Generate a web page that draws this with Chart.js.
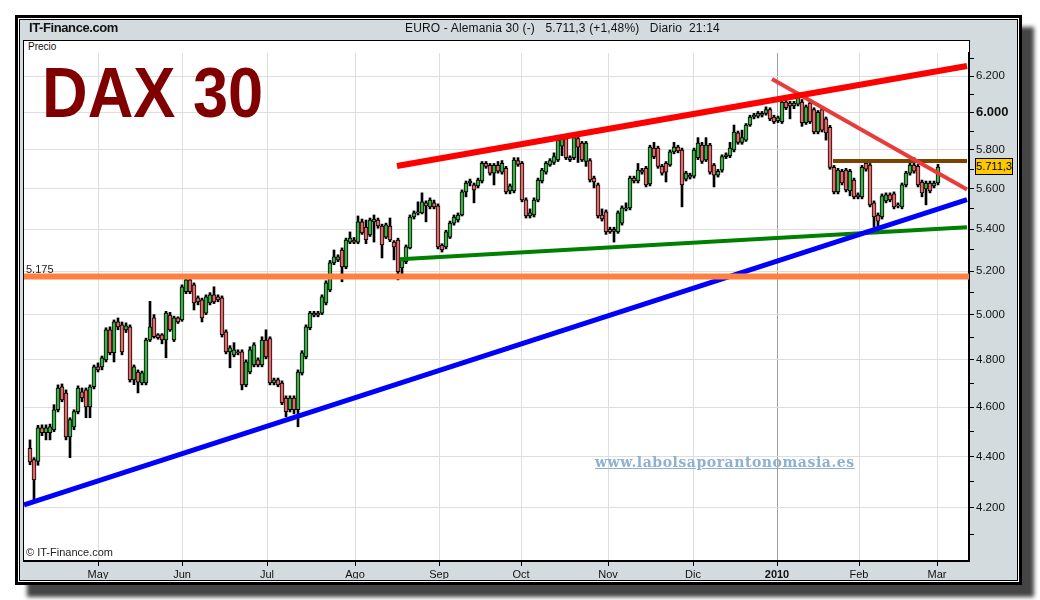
<!DOCTYPE html>
<html>
<head>
<meta charset="utf-8">
<script src="https://cdn.jsdelivr.net/npm/chart.js@4/dist/chart.umd.min.js"></script>
<style>
  body { margin: 0; background: #fff; font-family: "Liberation Sans", Arial, sans-serif; }
  #page { position: relative; width: 1040px; height: 600px; overflow: hidden; }
  .abs { position: absolute; }
  #shadow { left: 27px; top: 27px; width: 1007px; height: 570px; background: #444; filter: blur(2px); }
  #frame { left: 15px; top: 15px; width: 1007px; height: 570px; box-sizing: border-box; border: 3px solid #000; background: #fff; padding: 1px; }
  #panel { width: 100%; height: 100%; box-sizing: border-box; border: 1px solid #000; background: #d4dbde; }
  #precio { left: 23px; top: 40px; width: 947px; height: 14px; box-sizing: border-box; border: 1px solid #000; background: #fff; font-size: 10px; line-height: 12px; padding-left: 4px; color: #111; }
  #plot { left: 23px; top: 53px; width: 946px; height: 508px; box-sizing: border-box; border-left: 1px solid #000; background: #fff; }
  #cv { left: 0; top: 0; }
  #site { left: 29px; top: 20px; font-size: 13px; font-weight: bold; letter-spacing: -0.4px; color: #111; }
  #head { left: 405px; top: 21px; font-size: 12px; color: #111; white-space: pre; letter-spacing: 0.15px; }
  #dax { left: 42px; top: 57px; font-size: 71px; font-weight: bold; color: #800000; line-height: 1; transform: scaleX(0.89); transform-origin: left top; }
  #web { left: 595px; top: 454px; font-family: "DejaVu Serif", serif; font-size: 14px; font-weight: bold; color: #8eb0d2; text-decoration: underline; letter-spacing: 0.55px; }
  #copy { left: 26px; top: 546px; font-size: 11px; color: #222; }
  #lvl { left: 26px; top: 263px; font-size: 11px; color: #222; }
  #last { left: 975px; top: 158px; width: 38px; height: 17px; box-sizing: border-box; border: 1px solid #000; background: #ffc800; font-size: 11px; line-height: 15px; text-align: center; color: #000; }
</style>
</head>
<body>
<div id="page">
  <div id="shadow" class="abs"></div>
  <div id="frame" class="abs"><div id="panel"></div></div>
  <div id="precio" class="abs">Precio</div>
  <div id="plot" class="abs"></div>
  <canvas id="cv" class="abs" width="1040" height="600"></canvas>
  <div id="site" class="abs">IT-Finance.com</div>
  <div id="head" class="abs">EURO - Alemania 30 (-)   5.711,3 (+1,48%)   Diario  21:14</div>
  <div id="dax" class="abs">DAX 30</div>
  <div id="web" class="abs">www.labolsaporantonomasia.es</div>
  <div id="copy" class="abs">© IT-Finance.com</div>
  <div id="lvl" class="abs">5.175</div>
  <div id="last" class="abs">5.711,3</div>
</div>
<script>
// daily candles, 6 Apr 2009 .. 1 Mar 2010
const opens = [4432,4387,4380,4515,4495,4495,4507,4589,4685,4659,4478,4519,4581,4664,4672,4601,4685,4770,4770,4800,
  4932,4831,4967,4954,4932,4945,4714,4748,4701,4701,4887,4985,4910,4910,4887,4998,4887,4985,4976,5104,
  5159,5136,5076,5067,5007,5053,5090,5081,5076,4923,4835,4822,4835,4835,4693,4748,4778,4800,4778,4887,
  4893,4701,4714,4701,4638,4589,4638,4589,4744,4813,4941,4998,5007,5007,5053,5113,5239,5253,5300,5220,
  5338,5348,5338,5436,5410,5372,5436,5445,5416,5362,5416,5338,5348,5215,5244,5310,5460,5480,5480,5530,
  5510,5530,5515,5324,5315,5362,5430,5445,5470,5585,5630,5620,5615,5640,5730,5720,5680,5720,5685,5705,
  5590,5590,5745,5730,5545,5465,5470,5544,5640,5685,5722,5735,5748,5820,5860,5760,5760,5860,5836,5740,
  5745,5655,5620,5470,5485,5400,5390,5387,5430,5500,5505,5655,5640,5696,5705,5625,5810,5810,5715,5730,
  5722,5790,5815,5800,5650,5670,5665,5760,5826,5748,5826,5722,5670,5696,5765,5770,5800,5890,5840,5852,
  5932,5975,5980,5995,5995,6015,5975,5955,5950,6056,6050,6035,6045,6056,5945,6050,6015,5895,6015,5965,
  5920,5710,5585,5690,5696,5590,5645,5570,5560,5730,5722,5530,5470,5460,5540,5570,5575,5520,5510,5620,
  5680,5722,5715,5635,5600,5630,5615,5630];
const highs = [4466,4395,4525,4527,4527,4530,4610,4693,4697,4672,4556,4589,4689,4680,4680,4693,4778,4787,4817,4941,
  4945,4976,4985,4967,4963,4954,4778,4757,4752,4895,5060,5000,4915,4915,5015,5010,4993,4990,5136,5183,
  5183,5145,5085,5075,5090,5100,5127,5090,5085,4932,4862,4875,4844,4844,4800,4857,4875,4809,4901,4932,
  4901,4722,4722,4710,4647,4647,4647,4757,4840,4954,5015,5015,5015,5090,5155,5250,5300,5277,5310,5357,
  5387,5360,5465,5450,5445,5455,5470,5455,5425,5430,5455,5345,5357,5262,5324,5470,5490,5535,5580,5540,
  5555,5544,5525,5330,5395,5440,5470,5480,5595,5640,5650,5630,5655,5740,5740,5730,5730,5740,5745,5715,
  5625,5760,5760,5740,5555,5500,5555,5655,5705,5740,5755,5785,5860,5878,5870,5770,5878,5870,5845,5845,
  5755,5665,5630,5500,5495,5410,5410,5490,5515,5530,5665,5665,5730,5705,5715,5825,5840,5820,5725,5740,
  5800,5840,5825,5810,5690,5680,5810,5865,5840,5865,5835,5730,5700,5775,5785,5840,5932,5900,5905,5940,
  5985,5995,6005,6005,6030,6025,5985,5980,6065,6070,6060,6060,6095,6070,6040,6060,6025,6010,6025,5975,
  5930,5720,5705,5700,5705,5700,5655,5580,5720,5740,5730,5540,5480,5575,5580,5580,5585,5530,5630,5690,
  5735,5760,5725,5645,5640,5640,5640,5725];
const lows = [4367,4231,4365,4483,4466,4466,4499,4580,4622,4466,4395,4507,4572,4622,4556,4556,4676,4748,4757,4791,
  4822,4791,4932,4822,4920,4705,4694,4659,4693,4693,4880,4895,4890,4870,4809,4925,4880,4960,4970,5095,
  5095,5021,5044,4967,5000,5044,5050,5058,4900,4826,4766,4813,4822,4672,4685,4740,4770,4770,4770,4805,
  4693,4693,4685,4610,4560,4580,4572,4519,4735,4805,4932,4990,4990,5000,5044,5104,5230,5244,5150,5211,
  5330,5330,5330,5375,5330,5365,5338,5405,5262,5355,5340,5253,5159,5165,5235,5305,5450,5470,5475,5436,
  5500,5500,5305,5290,5305,5355,5420,5435,5465,5560,5615,5530,5605,5630,5705,5670,5620,5680,5675,5575,
  5575,5580,5715,5535,5455,5455,5460,5535,5630,5675,5715,5725,5740,5770,5750,5740,5750,5735,5740,5715,
  5635,5605,5455,5440,5375,5380,5338,5380,5420,5490,5495,5630,5630,5675,5610,5615,5755,5705,5670,5635,
  5715,5780,5785,5510,5640,5650,5655,5750,5730,5740,5675,5610,5660,5685,5755,5760,5790,5830,5830,5845,
  5925,5965,5970,5975,5985,5955,5940,5945,5940,6015,5965,6020,6035,5925,5935,5940,5885,5885,5895,5852,
  5700,5575,5575,5620,5585,5565,5550,5550,5550,5690,5510,5410,5410,5450,5530,5535,5500,5505,5500,5610,
  5670,5680,5610,5560,5520,5580,5605,5620];
const closes = [4378,4308,4515,4495,4515,4519,4589,4680,4630,4478,4548,4581,4680,4638,4601,4685,4770,4757,4809,4932,
  4831,4967,4945,4835,4950,4714,4770,4705,4744,4887,4945,4901,4897,4887,5007,4932,4985,4967,5127,5159,
  5104,5053,5058,4985,5081,5090,5058,5067,4910,4835,4853,4844,4831,4693,4792,4844,4866,4778,4887,4813,
  4701,4714,4693,4618,4581,4638,4589,4748,4831,4945,5007,5007,4998,5081,5145,5239,5267,5267,5220,5348,
  5357,5338,5436,5382,5350,5445,5450,5416,5324,5421,5348,5315,5197,5253,5315,5460,5480,5485,5535,5515,
  5544,5510,5315,5300,5387,5430,5460,5470,5585,5630,5640,5595,5645,5730,5715,5680,5720,5690,5730,5585,
  5615,5748,5725,5545,5465,5480,5544,5645,5696,5730,5745,5765,5852,5860,5760,5750,5865,5815,5748,5836,
  5645,5635,5465,5450,5387,5387,5400,5480,5505,5505,5655,5640,5696,5685,5620,5815,5765,5715,5680,5685,
  5790,5815,5795,5620,5680,5660,5800,5836,5740,5826,5685,5670,5690,5765,5775,5810,5895,5840,5865,5932,
  5975,5985,5995,5985,6015,5965,5950,5970,6056,6025,6035,6050,6080,5945,6030,5950,5895,6000,5905,5890,
  5710,5585,5696,5630,5595,5690,5560,5560,5710,5700,5520,5460,5440,5565,5570,5545,5510,5515,5620,5680,
  5722,5690,5620,5580,5630,5590,5630,5711];

// axis ticks
const monthPos = [17, 38, 59.25, 81.25, 102.25, 122.75, 144.5, 165.75, 186.75, 207.25, 226.75];
const monthLabels = ['May', 'Jun', 'Jul', 'Ago', 'Sep', 'Oct', 'Nov', 'Dic', '2010', 'Feb', 'Mar'];
const priceTicks = [4100, 4200, 4300, 4400, 4500, 4600, 4700, 4800, 4900, 5000, 5100, 5200,
  5300, 5400, 5500, 5600, 5700, 5800, 5900, 6000, 6100, 6200, 6300];

// drawn trend lines [day, price]
const upperTrend = [[91.75, 5717], [234.25, 6256]];
const longSupport = [[-1.5, 4212], [234.25, 5546]];
const midSupport = [[92.5, 5256], [234.25, 5410]];
const level5175 = [[-1.5, 5175], [234.75, 5175]];
const resistance = [[200.75, 5743], [234.25, 5743]];
const downTrend = [[185.5, 6183], [234.25, 5597]];

const yearTick = 186.75;

function fmt(v) {
  return Math.floor(v / 1000) + '.' + String(v % 1000).padStart(3, '0');
}

function lineSet(pts, color, w) {
  return {
    type: 'line',
    data: pts.map(p => ({ x: p[0], y: p[1] })),
    borderColor: color,
    borderWidth: w,
    pointRadius: 0,
    tension: 0,
    clip: 0,
    order: 0
  };
}

const bodies = closes.map((c, i) => ({ x: i, y: [opens[i], c] }));
const wicks = closes.map((c, i) => ({ x: i, y: [lows[i], highs[i]] }));
const bodyColors = closes.map((c, i) => c >= opens[i] ? '#3dae48' : '#e46a6a');

new Chart(document.getElementById('cv'), {
  type: 'bar',
  data: {
    datasets: [
      lineSet(level5175, '#ff8040', 6),
      lineSet(longSupport, '#0000ff', 5),
      lineSet(midSupport, '#008000', 4),
      lineSet(upperTrend, '#ff0000', 6),
      lineSet(downTrend, '#e83c3c', 4),
      lineSet(resistance, '#7c4200', 4),
      {
        data: bodies,
        backgroundColor: bodyColors,
        borderColor: '#000',
        borderWidth: 1,
        borderSkipped: false,
        barThickness: 4,
        grouped: false,
        order: 1
      },
      {
        data: wicks,
        backgroundColor: '#000',
        borderWidth: 0,
        barThickness: 2,
        grouped: false,
        order: 2
      }
    ]
  },
  options: {
    responsive: false,
    animation: false,
    layout: { padding: { left: 24, top: 53, right: 22, bottom: 21 } },
    plugins: { legend: { display: false }, tooltip: { enabled: false }, title: { display: false } },
    scales: {
      x: {
        type: 'linear',
        min: -1.5,
        max: 234.75,
        offset: false,
        afterBuildTicks: s => { s.ticks = monthPos.map(v => ({ value: v })); },
        afterFit: s => { s.height = 18; },
        ticks: {
          autoSkip: false,
          maxRotation: 0,
          padding: 2,
          color: '#111',
          font: c => ({ family: 'Liberation Sans', size: 11, weight: c.tick && c.tick.value === yearTick ? 'bold' : 'normal' }),
          callback: v => monthLabels[monthPos.indexOf(v)]
        },
        grid: {
          offset: false,
          color: c => c.tick && c.tick.value === yearTick ? '#a0a0a0' : '#dedede',
          lineWidth: 1,
          tickColor: '#000',
          tickLength: 5
        },
        border: { display: true, color: '#000', width: 2 }
      },
      y: {
        type: 'logarithmic',
        position: 'right',
        min: 4004,
        max: 6330,
        afterBuildTicks: s => { s.ticks = priceTicks.map(v => ({ value: v })); },
        afterFit: s => { s.width = 49; },
        ticks: {
          autoSkip: false,
          padding: 2,
          color: '#111',
          font: c => ({ family: 'Liberation Sans', size: c.tick && c.tick.value === 6000 ? 13 : 11.5, weight: c.tick && c.tick.value === 6000 ? 'bold' : 'normal' }),
          callback: v => v % 200 === 0 ? fmt(v) : ''
        },
        grid: {
          color: c => c.tick && c.tick.value % 200 === 0 ? '#dedede' : 'rgba(0,0,0,0)',
          lineWidth: 1,
          tickColor: '#000',
          tickLength: 5
        },
        border: { display: true, color: '#000', width: 2 }
      }
    }
  }
});
</script>
</body>
</html>
